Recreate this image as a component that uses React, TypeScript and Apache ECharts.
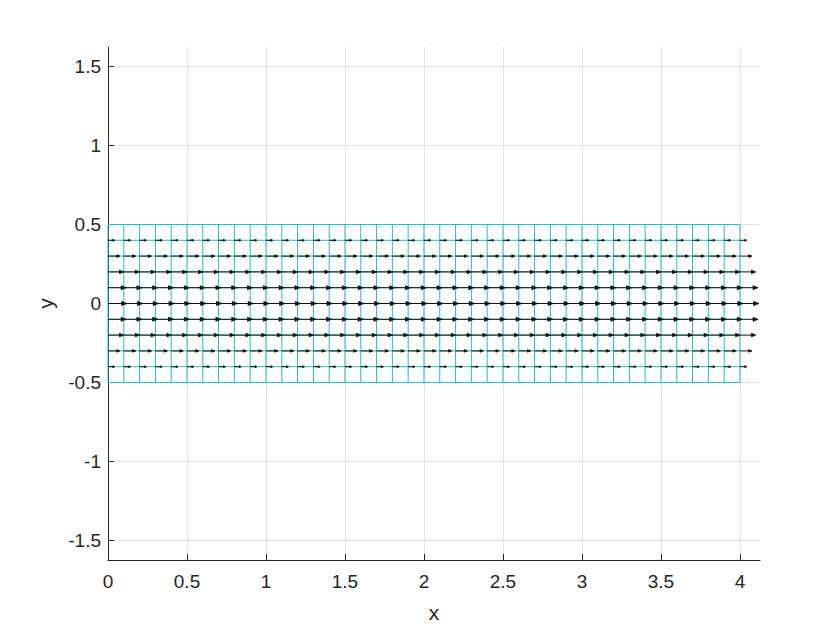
import React, { useEffect, useRef } from 'react';
import * as echarts from 'echarts';

// Mesh node positions (x and y)
const xNodes = [
  0, 0.1, 0.2, 0.3, 0.4, 0.5, 0.6, 0.7, 0.8, 0.9,
  1, 1.1, 1.2, 1.3, 1.4, 1.5, 1.6, 1.7, 1.8, 1.9,
  2, 2.1, 2.2, 2.3, 2.4, 2.5, 2.6, 2.7, 2.8, 2.9,
  3, 3.1, 3.2, 3.3, 3.4, 3.5, 3.6, 3.7, 3.8, 3.9, 4,
];
const yNodes = [-0.5, -0.4, -0.3, -0.2, -0.1, 0, 0.1, 0.2, 0.3, 0.4, 0.5];

// Quiver rows and their (relative) horizontal speeds
const arrowRows = [-0.4, -0.3, -0.2, -0.1, 0, 0.1, 0.2, 0.3, 0.4];
const arrowSpeeds = [0.36, 0.64, 0.84, 0.96, 1, 0.96, 0.84, 0.64, 0.36];

const xTicks = [0, 0.5, 1, 1.5, 2, 2.5, 3, 3.5, 4];
const yTicks = [-1.5, -1, -0.5, 0, 0.5, 1, 1.5];

const X_MIN = 0;
const X_MAX = 4.127;
const Y_MIN = -1.623;
const Y_MAX = 1.623;
const ARROW_SCALE = 0.12;

const CYAN = '#1cc0c0';
const AXIS_COLOR = '#262626';
const GRID_COLOR = '#e2e2e2';
const FONT = '"Liberation Sans", Arial, Helvetica, sans-serif';

export default function App() {
  const ref = useRef<HTMLDivElement>(null);

  useEffect(() => {
    if (!ref.current) return;
    const chart = echarts.init(ref.current, undefined, { renderer: 'svg' });

    const xFirst = xNodes[0];
    const xLast = xNodes[xNodes.length - 1];
    const yFirst = yNodes[0];
    const yLast = yNodes[yNodes.length - 1];

    const meshSegments: number[][] = [];
    yNodes.forEach((y) => meshSegments.push([xFirst, y, xLast, y]));
    xNodes.forEach((x) => meshSegments.push([x, yFirst, x, yLast]));

    const arrows: number[][] = [];
    arrowRows.forEach((y, i) => {
      xNodes.forEach((x) => arrows.push([x, y, arrowSpeeds[i]]));
    });

    const axisCommon = {
      type: 'value' as const,
      axisLine: { show: true, onZero: false, lineStyle: { color: AXIS_COLOR, width: 1 } },
      splitLine: { show: true, lineStyle: { color: GRID_COLOR, width: 1 } },
      nameTextStyle: { color: AXIS_COLOR, fontFamily: FONT, fontSize: 21 },
    };

    chart.setOption({
      animation: false,
      backgroundColor: '#ffffff',
      grid: { left: 108, right: 80, top: 47, bottom: 70, containLabel: false },
      xAxis: {
        ...axisCommon,
        min: X_MIN,
        max: X_MAX,
        name: 'x',
        nameLocation: 'middle',
        nameGap: 42,
        axisTick: { show: true, inside: true, length: 6, customValues: xTicks, lineStyle: { color: AXIS_COLOR } },
        axisLabel: {
          customValues: xTicks,
          color: AXIS_COLOR,
          fontFamily: FONT,
          fontSize: 19,
          margin: 12,
          formatter: (v: number) => String(v),
        },
      },
      yAxis: {
        ...axisCommon,
        min: Y_MIN,
        max: Y_MAX,
        name: 'y',
        nameLocation: 'middle',
        nameGap: 52,
        axisTick: { show: true, inside: true, length: 6, customValues: yTicks, lineStyle: { color: AXIS_COLOR } },
        axisLabel: {
          customValues: yTicks,
          color: AXIS_COLOR,
          fontFamily: FONT,
          fontSize: 19,
          margin: 7,
          formatter: (v: number) => String(v),
        },
      },
      series: [
        {
          type: 'custom',
          name: 'mesh',
          data: meshSegments,
          encode: { x: [0, 2], y: [1, 3] },
          silent: true,
          renderItem: (_params: any, api: any) => {
            const p1 = api.coord([api.value(0), api.value(1)]);
            const p2 = api.coord([api.value(2), api.value(3)]);
            return {
              type: 'line',
              shape: { x1: p1[0], y1: p1[1], x2: p2[0], y2: p2[1] },
              style: { stroke: CYAN, lineWidth: 1, fill: null },
            };
          },
        },
        {
          type: 'custom',
          name: 'quiver',
          data: arrows,
          encode: { x: 0, y: 1 },
          silent: true,
          clip: false,
          renderItem: (_params: any, api: any) => {
            const x = api.value(0);
            const y = api.value(1);
            const u = api.value(2);
            const p0 = api.coord([x, y]);
            const p1 = api.coord([x + ARROW_SCALE * u, y]);
            const len = p1[0] - p0[0];
            const hl = Math.max(2, 0.28 * len);
            const hw = Math.max(1, 0.11 * len);
            return {
              type: 'group',
              children: [
                {
                  type: 'line',
                  shape: { x1: p0[0], y1: p0[1], x2: p1[0] - hl * 0.5, y2: p1[1] },
                  style: { stroke: '#111111', lineWidth: 1 },
                },
                {
                  type: 'polygon',
                  shape: {
                    points: [
                      [p1[0] - hl, p1[1] - hw],
                      [p1[0], p1[1]],
                      [p1[0] - hl, p1[1] + hw],
                    ],
                  },
                  style: { stroke: '#111111', lineWidth: 0.8, fill: '#111111' },
                },
              ],
            };
          },
        },
      ],
    });

    return () => chart.dispose();
  }, []);

  return (
    <div
      ref={ref}
      style={{ position: 'absolute', left: 0, top: 0, width: 840, height: 630, background: '#fff' }}
    />
  );
}
